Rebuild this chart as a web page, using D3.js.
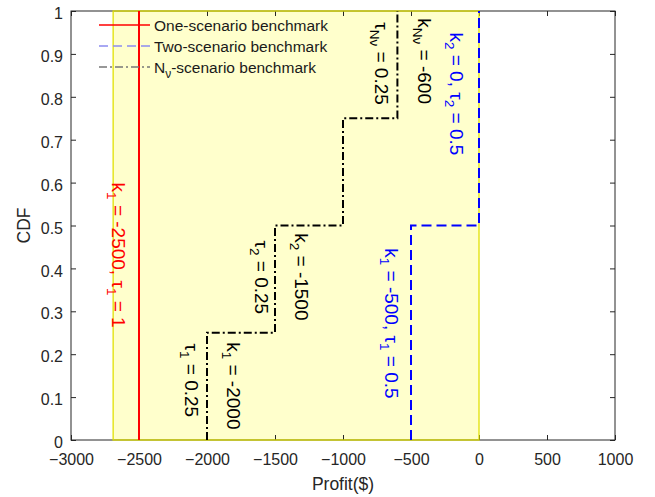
<!DOCTYPE html>
<html>
<head>
<meta charset="utf-8">
<script src="https://cdn.jsdelivr.net/npm/d3@7"></script>
<style>
  html, body { margin: 0; padding: 0; background: #fff; }
  svg { display: block; font-family: "Liberation Sans", Arial, sans-serif; }
</style>
</head>
<body>
<svg id="chart" width="655" height="497"></svg>
<script>
// Axis ticks
const xTicks = [-3000, -2500, -2000, -1500, -1000, -500, 0, 500, 1000];
const yTicks = [0, 0.1, 0.2, 0.3, 0.4, 0.5, 0.6, 0.7, 0.8, 0.9, 1];

// Shaded profit range
const bandX = [-2690, 0];
const bandY = [0, 1];

// CDF step curves of the three benchmarks
const oneX = [-2500, -2500];
const oneY = [0, 1];
const twoX = [-500, -500, 0, 0];
const twoY = [0, 0.5, 0.5, 1];
const nuX = [-2000, -2000, -1500, -1500, -1000, -1000, -600, -600];
const nuY = [0, 0.25, 0.25, 0.5, 0.5, 0.75, 0.75, 1];

// Legend entries
const legendNames = ["One-scenario benchmark", "Two-scenario benchmark", "N|ν|-scenario benchmark"];

// Annotations: [x, y, colour, pieces] – pieces alternate normal / subscript
const notes = [
  [-2700, 0.60, "#ff0000", ["k", "1", " = -2500, τ", "1", " = 1"]],
  [-2160, 0.225, "#000000", ["τ", "1", " = 0.25"]],
  [-1850, 0.228, "#000000", ["k", "1", " = -2000"]],
  [-1650, 0.465, "#000000", ["τ", "2", " = 0.25"]],
  [-1350, 0.482, "#000000", ["k", "2", " = -1500"]],
  [-765, 0.974, "#000000", ["τ", "Nν", " = 0.25"]],
  [-450, 0.983, "#000000", ["k", "Nν", " = -600"]],
  [-213, 0.95, "#0000ff", ["k", "2", " = 0, τ", "2", " = 0.5"]],
  [-690, 0.447, "#0000ff", ["k", "1", " = -500, τ", "1", " = 0.5"]]
];

const svg = d3.select("#chart");
const L = 71, R = 615, T = 11, B = 440;
const x = d3.scaleLinear().domain([-3000, 1000]).range([L, R]);
const y = d3.scaleLinear().domain([0, 1]).range([B, T]);
const axisColor = "#262626";

// shaded band fill
svg.append("rect")
  .attr("x", x(bandX[0])).attr("y", y(bandY[1]))
  .attr("width", x(bandX[1]) - x(bandX[0]))
  .attr("height", y(bandY[0]) - y(bandY[1]))
  .attr("fill", "#ffffcc");

// axes with inward ticks on all four sides
function styleAxis(g) {
  g.selectAll("path").attr("stroke", axisColor);
  g.selectAll("line").attr("stroke", axisColor);
  g.selectAll("text").attr("fill", axisColor).style("font-size", "16px");
}
svg.append("g").attr("transform", `translate(0,${B})`)
  .call(d3.axisBottom(x).tickValues(xTicks).tickSizeInner(-5).tickSizeOuter(0).tickPadding(13.5).tickFormat(d3.format("d")))
  .call(styleAxis).call(g => g.select(".domain").remove());
svg.append("g").attr("transform", `translate(0,${T})`)
  .call(d3.axisTop(x).tickValues(xTicks).tickSizeInner(-5).tickSizeOuter(0).tickFormat(""))
  .call(styleAxis).call(g => g.select(".domain").remove());
svg.append("g").attr("transform", `translate(${L},0)`)
  .call(d3.axisLeft(y).tickValues(yTicks).tickSizeInner(-5).tickSizeOuter(0).tickPadding(8).tickFormat(d => d === 0 || d === 1 ? d3.format("d")(d) : d3.format(".1f")(d)))
  .call(styleAxis).call(g => g.select(".domain").remove())
  .call(g => g.selectAll("text").attr("dy", "0.48em"));
svg.append("g").attr("transform", `translate(${R},0)`)
  .call(d3.axisRight(y).tickValues(yTicks).tickSizeInner(-5).tickSizeOuter(0).tickFormat(""))
  .call(styleAxis).call(g => g.select(".domain").remove());
svg.append("rect")
  .attr("x", L).attr("y", T).attr("width", R - L).attr("height", B - T)
  .attr("fill", "none").attr("stroke", axisColor).attr("stroke-width", 1);

// band edge drawn over the frame
svg.append("rect")
  .attr("x", x(bandX[0])).attr("y", y(bandY[1]))
  .attr("width", x(bandX[1]) - x(bandX[0]))
  .attr("height", y(bandY[0]) - y(bandY[1]))
  .attr("fill", "none").attr("stroke", "rgba(225,225,0,0.85)").attr("stroke-width", 1.5);

// axis titles
svg.append("text").attr("x", (L + R) / 2).attr("y", 490).attr("text-anchor", "middle")
  .attr("fill", axisColor).style("font-size", "17.5px").text("Profit($)");
svg.append("text").attr("transform", `translate(30,${(T + B) / 2}) rotate(-90)`).attr("text-anchor", "middle")
  .attr("fill", axisColor).style("font-size", "17.5px").text("CDF");

// step curves
const line = d3.line().x(d => x(d[0])).y(d => y(d[1]));
function curve(xs, ys, color, dash) {
  svg.append("path").datum(xs.map((v, i) => [v, ys[i]]))
    .attr("d", line).attr("fill", "none").attr("stroke", color)
    .attr("stroke-width", 2).attr("stroke-dasharray", dash);
}
curve(nuX, nuY, "#000000", "8,3,2,3");
curve(twoX, twoY, "#0000ff", "10,5");
curve(oneX, oneY, "#ff0000", null);

// rotated annotations with subscripts
notes.forEach(([nx, ny, color, pieces]) => {
  const t = svg.append("text")
    .attr("transform", `translate(${x(nx)},${y(ny)}) rotate(90)`)
    .attr("fill", color).style("font-size", "19px");
  pieces.forEach((p, i) => {
    const sub = i % 2 === 1;
    const ts = t.append("tspan").text(p);
    if (sub) ts.attr("dy", 5).style("font-size", "13.5px");
    else if (i > 0) ts.attr("dy", -5);
  });
});

// legend
const legendStyles = [
  { color: "#ff0000", dash: null },
  { color: "#8c8cf0", dash: "9,5" },
  { color: "#777777", dash: "8,3,2,3" }
];
legendNames.forEach((name, i) => {
  const ly = 25 + i * 21;
  svg.append("line").attr("x1", 99).attr("x2", 150).attr("y1", ly).attr("y2", ly)
    .attr("stroke", legendStyles[i].color).attr("stroke-width", 1.5)
    .attr("stroke-dasharray", legendStyles[i].dash);
  const t = svg.append("text").attr("x", 154).attr("y", ly + 5.5)
    .attr("fill", "#1a1a1a").style("font-size", "15.5px");
  name.split("|").forEach((p, j) => {
    const ts = t.append("tspan").text(p);
    if (j === 1) ts.attr("dy", 5).style("font-size", "12px");
    else if (j > 1) ts.attr("dy", -5);
  });
});
</script>
</body>
</html>
